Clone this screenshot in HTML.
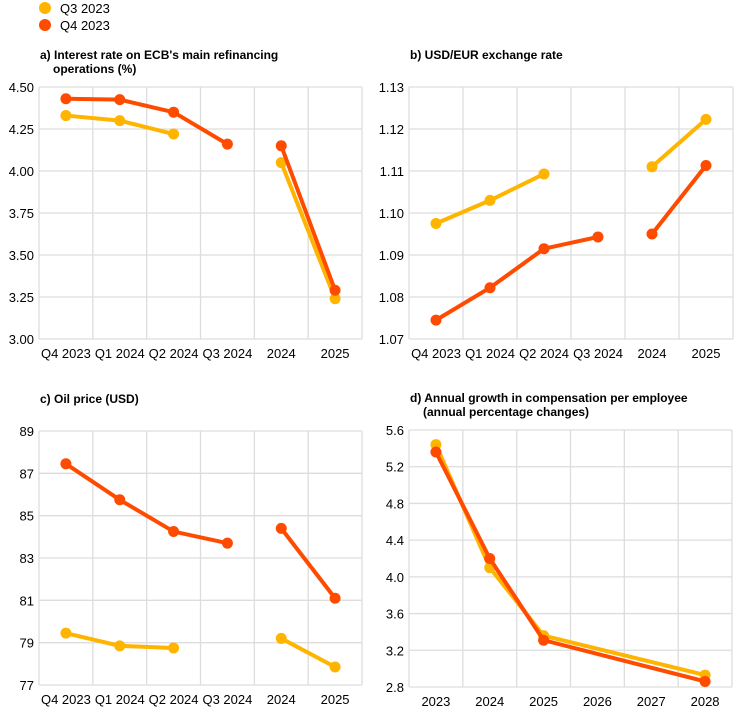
<!DOCTYPE html><html><head><meta charset="utf-8"><style>body{margin:0;background:#fff}svg{display:block;font-family:"Liberation Sans",Arial,sans-serif}</style></head><body>
<svg id="s" width="744" height="713" xmlns="http://www.w3.org/2000/svg"></svg>
<script>
const s=document.getElementById('s');let h='';
const Y='#FFB400',O='#FF4B00';
h+=`<circle cx="45" cy="8" r="6" fill="${Y}"/><text x="60" y="13" font-size="13">Q3 2023</text>`;
h+=`<circle cx="45" cy="25" r="6" fill="${O}"/><text x="60" y="30" font-size="13">Q4 2023</text>`;
function panel(L,R,T,B,ymin,ymax,step,dec,title,cats,series){
 let n=cats.length,w=(R-L)/n;
 h+=`<text x="${L+1}" y="${T-28}" font-size="12" font-weight="bold">${title[0]}</text>`;
 if(title[1])h+=`<text x="${L+14}" y="${T-14}" font-size="12" font-weight="bold">${title[1]}</text>`;
 const yy=v=>B-(v-ymin)/(ymax-ymin)*(B-T);
 for(let v=ymin;v<=ymax+1e-9;v+=step){let y=yy(v);h+=`<line x1="${L}" x2="${R}" y1="${y}" y2="${y}" stroke="#ddd" stroke-width="1.3"/><text x="${L-5}" y="${y+5}" font-size="13" text-anchor="end">${v.toFixed(dec)}</text>`;}
 for(let i=0;i<=n;i++){let x=L+i*w;h+=`<line x1="${x}" x2="${x}" y1="${T}" y2="${B}" stroke="#ddd" stroke-width="1.3"/>`;}
 cats.forEach((c,i)=>h+=`<text x="${L+(i+.5)*w}" y="${B+19}" font-size="13" text-anchor="middle">${c}</text>`);
 series.forEach(([col,segs])=>segs.forEach(seg=>{let pts=seg.map(([i,v])=>[L+(i+.5)*w,yy(v)]);
  h+=`<polyline points="${pts.map(p=>p.join(',')).join(' ')}" fill="none" stroke="${col}" stroke-width="4"/>`;
  pts.forEach(p=>h+=`<circle cx="${p[0]}" cy="${p[1]}" r="5.5" fill="${col}"/>`);}));
}
const qc=['Q4 2023','Q1 2024','Q2 2024','Q3 2024','2024','2025'];
panel(39,362,87,339,3,4.5,0.25,2,["a) Interest rate on ECB's main refinancing","operations (%)"],qc,
 [[Y,[[[0,4.33],[1,4.30],[2,4.22]],[[4,4.05],[5,3.24]]]],[O,[[[0,4.43],[1,4.425],[2,4.35],[3,4.16]],[[4,4.15],[5,3.29]]]]]);
panel(409,733,87,339,1.07,1.13,0.01,2,["b) USD/EUR exchange rate"],qc,
 [[Y,[[[0,1.0975],[1,1.103],[2,1.1093]],[[4,1.111],[5,1.1223]]]],[O,[[[0,1.0745],[1,1.0822],[2,1.0915],[3,1.0943]],[[4,1.095],[5,1.1113]]]]]);
panel(39,362,431,685,77,89,2,0,["c) Oil price (USD)"],qc,
 [[Y,[[[0,79.45],[1,78.85],[2,78.75]],[[4,79.2],[5,77.85]]]],[O,[[[0,87.45],[1,85.75],[2,84.25],[3,83.7]],[[4,84.4],[5,81.1]]]]]);
panel(409,732,430,687,2.8,5.6,0.4,1,["d) Annual growth in compensation per employee","(annual percentage changes)"],['2023','2024','2025','2026','2027','2028'],
 [[Y,[[[0,5.44],[1,4.10],[2,3.36],[5,2.93]]]],[O,[[[0,5.36],[1,4.20],[2,3.31],[5,2.86]]]]]);
s.innerHTML=h;
</script></body></html>
